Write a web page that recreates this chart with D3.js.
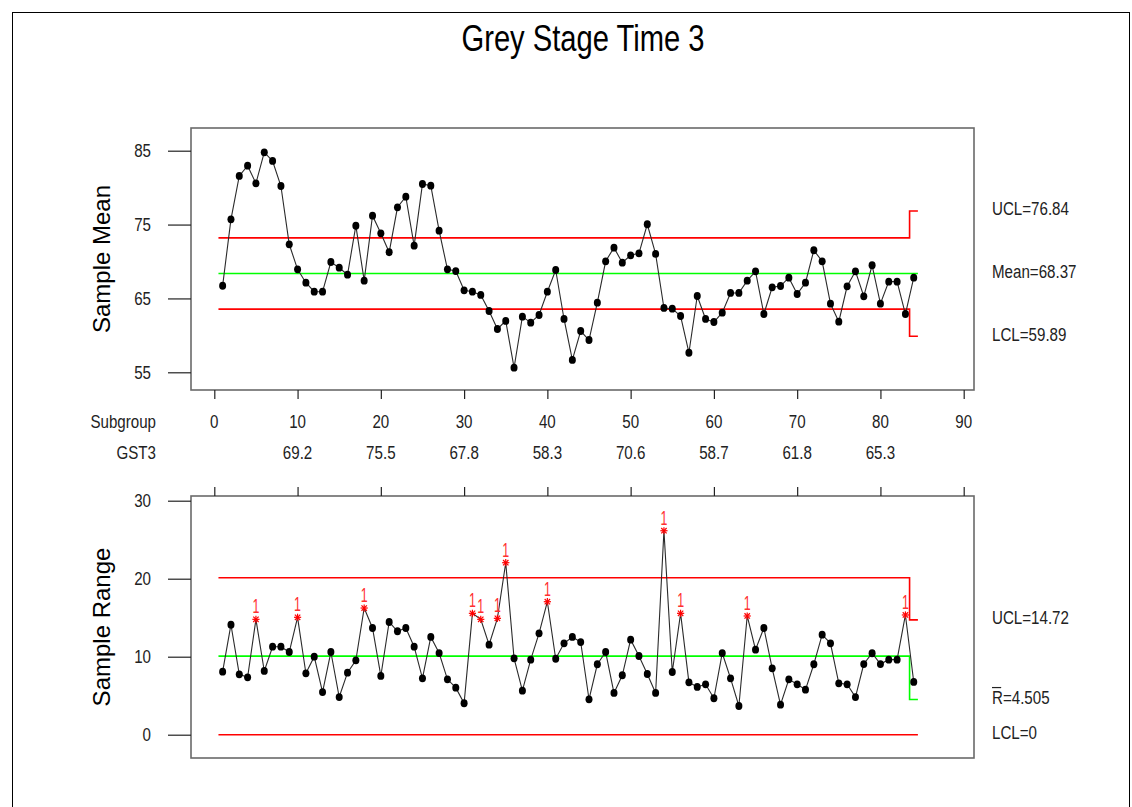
<!DOCTYPE html>
<html>
<head>
<meta charset="utf-8">
<script src="https://cdn.jsdelivr.net/npm/d3@7"></script>
<style>
  html, body { margin: 0; padding: 0; background: #fff; }
  svg { display: block; }
  text { font-family: "Liberation Sans", Arial, sans-serif; }
</style>
</head>
<body>
<svg id="chart" width="1132" height="807"></svg>
<script>
// Xbar-R chart for GST3, subgroups 1..84, two stages (1-83, 84)
const subgroupMeans = [
  66.72, 75.71, 81.58, 82.97, 80.59, 84.78, 83.61, 80.22, 72.33, 68.94,
  67.13, 65.91, 65.91, 69.93, 69.16, 68.21, 74.85, 67.40, 76.20, 73.82,
  71.25, 77.34, 78.77, 72.14, 80.49, 80.26, 74.17, 68.94, 68.71, 66.10,
  65.91, 65.47, 63.30, 60.86, 61.95, 55.62, 62.53, 61.72, 62.76, 65.91,
  68.85, 62.22, 56.67, 60.59, 59.37, 64.42, 70.03, 71.87, 69.84, 70.84,
  71.11, 75.04, 71.02, 63.71, 63.61, 62.62, 57.65, 65.33, 62.22, 61.81,
  63.07, 65.74, 65.74, 67.40, 68.67, 62.89, 66.51, 66.68, 67.81, 65.60,
  67.13, 71.52, 70.03, 64.29, 61.85, 66.64, 68.67, 65.29, 69.49, 64.29,
  67.27, 67.27, 62.89, 67.81
];
const subgroupRanges = [
  8.08, 14.10, 7.74, 7.36, 14.79, 8.17, 11.28, 11.28, 10.60, 15.05,
  7.87, 10.00, 5.47, 10.60, 4.83, 7.95, 9.54, 16.24, 13.68, 7.53,
  14.45, 13.26, 13.68, 11.28, 7.23, 12.53, 10.47, 7.10, 6.03, 4.03,
  15.56, 14.79, 11.54, 14.92, 22.05, 9.79, 5.64, 9.62, 13.00, 17.05,
  9.74, 11.72, 12.53, 11.88, 4.54, 9.03, 10.60, 5.35, 7.62, 12.18,
  10.09, 7.78, 5.35, 26.15, 8.04, 15.56, 6.72, 6.12, 6.46, 4.67,
  10.47, 7.23, 3.68, 15.22, 10.90, 13.68, 8.51, 3.85, 7.10, 6.46,
  5.77, 9.03, 12.82, 11.72, 6.59, 6.46, 4.83, 9.06, 10.44, 9.06,
  9.62, 9.62, 15.35, 6.76
];
// subgroups failing test 1 on the range chart
const rangeFlags = [5, 10, 18, 31, 32, 34, 35, 40, 54, 56, 64, 83];

// stages: first and last subgroup of each
const stageFirst = [1, 84];
const stageLast = [83, 84];
const meanUCL = [73.20, 76.84];
const meanCL = [68.37, 68.37];
const meanLCL = [63.55, 59.89];
const rangeUCL = [20.13, 14.72];
const rangeCL = [10.07, 4.505];
const rangeLCL = [0, 0];

// tick labels
const meanTicks = [55, 65, 75, 85];
const rangeTicks = [0, 10, 20, 30];
const subgroupTicks = [0, 10, 20, 30, 40, 50, 60, 70, 80, 90];
const stampAt = [10, 20, 30, 40, 50, 60, 70, 80];
const stampLabels = ["69.2", "75.5", "67.8", "58.3", "70.6", "58.7", "61.8", "65.3"];

const svg = d3.select("#chart");
const RED = "#ff0000", GREEN = "#00ff00";

// outer border
svg.append("rect").attr("x", 12.5).attr("y", 12.5).attr("width", 1117).attr("height", 820)
  .attr("fill", "#fff").attr("stroke", "#000").attr("stroke-width", 1);

// title
svg.append("text").attr("class", "title").attr("x", 583).attr("y", 51)
  .attr("text-anchor", "middle").attr("font-size", 37).attr("fill", "#000")
  .text("Grey Stage Time 3");

const x = d3.scaleLinear().domain([0, 90]).range([214.3, 963.7]);
const yMean = d3.scaleLinear().domain([55, 85]).range([372.3, 150.7]);
const yRange = d3.scaleLinear().domain([0, 30]).range([734.7, 500.7]);

const frameL = 191, frameR = 974;
const top1 = 128, bot1 = 390, top2 = 496, bot2 = 758;

function frame(t, b) {
  svg.append("rect").attr("x", frameL).attr("y", t).attr("width", frameR - frameL).attr("height", b - t)
    .attr("fill", "none").attr("stroke", "#6a6a6a").attr("stroke-width", 1.6);
}
frame(top1, bot1);
frame(top2, bot2);

function styleAxis(g) {
  g.select(".domain").remove();
  g.selectAll(".tick line").attr("stroke", "#222").attr("stroke-width", 1.2);
  g.selectAll(".tick text").attr("font-size", 18).attr("fill", "#222")
    .attr("font-family", "Liberation Sans, Arial, sans-serif");
}

// y axes
svg.append("g").attr("transform", `translate(${frameL},0)`)
  .call(d3.axisLeft(yMean).tickValues(meanTicks).tickSize(23).tickPadding(17).tickFormat(d3.format("d")))
  .call(styleAxis);
svg.append("g").attr("transform", `translate(${frameL},0)`)
  .call(d3.axisLeft(yRange).tickValues(rangeTicks).tickSize(23).tickPadding(17).tickFormat(d3.format("d")))
  .call(styleAxis);

// subgroup axis ticks under the mean chart and above the range chart
svg.append("g").attr("transform", `translate(0,${bot1})`)
  .call(d3.axisBottom(x).tickValues(subgroupTicks).tickSize(9).tickFormat(""))
  .call(styleAxis);
svg.append("g").attr("transform", `translate(0,${top2})`)
  .call(d3.axisTop(x).tickValues(subgroupTicks).tickSize(9).tickFormat(""))
  .call(styleAxis);

// subgroup numbers and stamp row
const lab = svg.append("g").attr("font-size", 18).attr("fill", "#222");
lab.append("text").attr("x", 156).attr("y", 428).attr("text-anchor", "end").text("Subgroup");
lab.append("text").attr("x", 156).attr("y", 459).attr("text-anchor", "end").text("GST3");
lab.selectAll(".sg").data(subgroupTicks).join("text").attr("class", "sg")
  .attr("x", d => x(d)).attr("y", 428).attr("text-anchor", "middle").text(d => d);
lab.selectAll(".st").data(stampAt).join("text").attr("class", "st")
  .attr("x", d => x(d)).attr("y", 459).attr("text-anchor", "middle").text((d, i) => stampLabels[i]);

// axis titles
svg.append("text").attr("class", "ytitle").attr("transform", `translate(110,${(top1 + bot1) / 2}) rotate(-90)`)
  .attr("text-anchor", "middle").attr("font-size", 24).attr("fill", "#000").text("Sample Mean");
svg.append("text").attr("class", "ytitle").attr("transform", `translate(110,${(top2 + bot2) / 2}) rotate(-90)`)
  .attr("text-anchor", "middle").attr("font-size", 24).attr("fill", "#000").text("Sample Range");

// stage-wise control limit paths
function stagePoints(vals) {
  const pts = [];
  vals.forEach((v, s) => {
    pts.push([stageFirst[s] - 0.5, v]);
    pts.push([stageLast[s] + 0.5, v]);
  });
  return pts;
}
function limitLine(vals, yScale, color) {
  svg.append("path").datum(stagePoints(vals))
    .attr("d", d3.line().x(d => x(d[0])).y(d => yScale(d[1])))
    .attr("fill", "none").attr("stroke", color).attr("stroke-width", 1.6);
}
limitLine(meanUCL, yMean, RED);
limitLine(meanLCL, yMean, RED);
limitLine(meanCL, yMean, GREEN);
limitLine(rangeUCL, yRange, RED);
limitLine(rangeLCL, yRange, RED);
limitLine(rangeCL, yRange, GREEN);

// data series
function series(values, yScale, flags) {
  const idx = values.map((v, i) => i + 1);
  svg.append("path").datum(idx)
    .attr("d", d3.line().x(i => x(i)).y(i => yScale(values[i - 1])))
    .attr("fill", "none").attr("stroke", "#2a2a2a").attr("stroke-width", 1.1);
  const plain = idx.filter(i => !flags.includes(i));
  svg.append("g").selectAll("ellipse").data(plain).join("ellipse")
    .attr("cx", i => x(i)).attr("cy", i => yScale(values[i - 1]))
    .attr("rx", 3.5).attr("ry", 3.9).attr("fill", "#000");
  const fl = svg.append("g");
  flags.forEach(i => {
    const cx = x(i), cy = yScale(values[i - 1]), r = 3.6;
    const g = fl.append("g").attr("stroke", RED).attr("stroke-width", 1.2);
    g.append("line").attr("x1", cx - r).attr("x2", cx + r).attr("y1", cy).attr("y2", cy);
    g.append("line").attr("x1", cx).attr("x2", cx).attr("y1", cy - r).attr("y2", cy + r);
    g.append("line").attr("x1", cx - r * 0.75).attr("x2", cx + r * 0.75).attr("y1", cy - r * 0.75).attr("y2", cy + r * 0.75);
    g.append("line").attr("x1", cx - r * 0.75).attr("x2", cx + r * 0.75).attr("y1", cy + r * 0.75).attr("y2", cy - r * 0.75);
    // narrow "1" marker drawn through a horizontal squeeze
    fl.append("text").attr("class", "flag")
      .attr("transform", `translate(${cx},${cy - 6}) scale(0.62,1)`)
      .attr("text-anchor", "middle").attr("font-size", 20).attr("fill", "#ff3030").text("1");
  });
}
series(subgroupMeans, yMean, []);
series(subgroupRanges, yRange, rangeFlags);

// limit labels for the last stage
const last = stageFirst.length - 1;
const rl = svg.append("g").attr("font-size", 18).attr("fill", "#222");
const fmt2 = d3.format(".2f");
rl.append("text").attr("x", 992).attr("y", yMean(meanUCL[last]) + 4.5).text("UCL=" + fmt2(meanUCL[last]));
rl.append("text").attr("x", 992).attr("y", yMean(meanCL[last]) + 4.5).text("Mean=" + fmt2(meanCL[last]));
rl.append("text").attr("x", 992).attr("y", yMean(meanLCL[last]) + 4.5).text("LCL=" + fmt2(meanLCL[last]));
rl.append("text").attr("x", 992).attr("y", yRange(rangeUCL[last]) + 4.5).text("UCL=" + fmt2(rangeUCL[last]));
const rbar = rl.append("text").attr("x", 992).attr("y", yRange(rangeCL[last]) + 4.5);
const rChar = rbar.append("tspan").text("R");
rbar.append("tspan").text("=" + rangeCL[last]);
rl.append("text").attr("x", 992).attr("y", yRange(rangeLCL[last]) + 4.5).text("LCL=" + rangeLCL[last]);

// narrow rendering of the labels
function condense(sel, k) {
  sel.each(function () {
    const w = this.getComputedTextLength();
    d3.select(this).attr("textLength", w * k).attr("lengthAdjust", "spacingAndGlyphs");
  });
}
condense(svg.selectAll(".tick text"), 0.84);
condense(lab.selectAll("text"), 0.84);
condense(rl.selectAll("text"), 0.84);
svg.select(".title").attr("textLength", 243).attr("lengthAdjust", "spacingAndGlyphs");

// bar over R
const rb = rbar.node().getBBox();
const rW = rChar.node().getComputedTextLength() * 0.84;
svg.append("line").attr("x1", rb.x).attr("x2", rb.x + rW)
  .attr("y1", yRange(rangeCL[last]) - 12).attr("y2", yRange(rangeCL[last]) - 12)
  .attr("stroke", "#222").attr("stroke-width", 1.2);
</script>
</body>
</html>
